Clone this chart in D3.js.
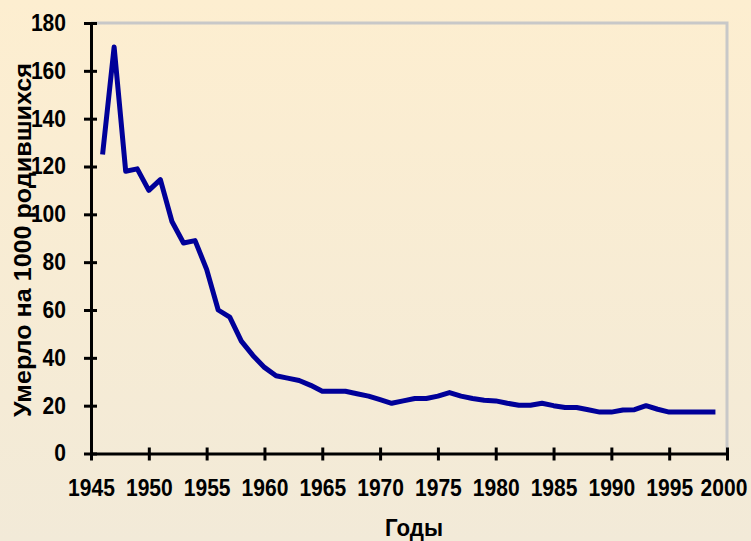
<!DOCTYPE html>
<html>
<head>
<meta charset="utf-8">
<script src="https://d3js.org/d3.v7.min.js"></script>
<style>
  body { margin: 0; padding: 0; }
  svg { display: block; }
  text { font-family: "Liberation Sans", Arial, sans-serif; }
</style>
</head>
<body>
<div id="chart"></div>
<script>
// infant mortality, deaths per 1000 births
var years = [1946, 1947, 1948, 1949, 1950, 1951, 1952, 1953, 1954, 1955,
             1956, 1957, 1958, 1959, 1960, 1961, 1962, 1963, 1964, 1965,
             1966, 1967, 1968, 1969, 1970, 1971, 1972, 1973, 1974, 1975,
             1976, 1977, 1978, 1979, 1980, 1981, 1982, 1983, 1984, 1985,
             1986, 1987, 1988, 1989, 1990, 1991, 1992, 1993, 1994, 1995,
             1996, 1997, 1998, 1999];
var deaths = [125, 170, 118, 119, 110, 114.5, 97, 88, 89, 77,
              60, 57, 47, 41, 36, 32.5, 31.5, 30.5, 28.5, 26,
              26, 26, 25, 24, 22.5, 21, 22, 23, 23, 24,
              25.5, 24, 23, 22.3, 22, 21, 20.2, 20.2, 21, 20,
              19.2, 19.2, 18.3, 17.3, 17.3, 18.2, 18.3, 20, 18.5, 17.3,
              17.3, 17.3, 17.3, 17.3];
var xTicks = [1945, 1950, 1955, 1960, 1965, 1970, 1975, 1980, 1985, 1990, 1995, 2000];
var yTicks = [0, 20, 40, 60, 80, 100, 120, 140, 160, 180];

var width = 751, height = 541;

var svg = d3.select("#chart")
    .append("svg")
    .attr("width", width)
    .attr("height", height);

// background gradient
var grad = svg.append("defs").append("linearGradient")
    .attr("id", "bg")
    .attr("x1", 0).attr("y1", 0).attr("x2", 0).attr("y2", 1);
grad.append("stop").attr("offset", "0%").attr("stop-color", "#fdeed0");
grad.append("stop").attr("offset", "100%").attr("stop-color", "#f2ead8");

svg.append("rect")
    .attr("width", width)
    .attr("height", height)
    .attr("fill", "url(#bg)");

var x = d3.scaleLinear().domain([1945, 2000]).range([91, 727]);
var y = d3.scaleLinear().domain([0, 180]).range([453.5, 23]);

// grey plot frame (top + right)
svg.append("path")
    .attr("d", "M" + x(1945) + "," + y(180) + "H" + x(2000) + "V" + y(0))
    .attr("fill", "none")
    .attr("stroke", "#c8c8c8")
    .attr("stroke-width", 3);

// y axis
var yAxis = svg.append("g")
    .attr("transform", "translate(" + x(1945) + ",0)")
    .call(d3.axisLeft(y).tickValues(yTicks).tickSize(7).tickSizeOuter(0).tickPadding(18));

// x axis
var xAxis = svg.append("g")
    .attr("transform", "translate(0," + y(0) + ")")
    .call(d3.axisBottom(x).tickValues(xTicks).tickFormat(d3.format("d")).tickSize(7).tickSizeOuter(0));

[yAxis, xAxis].forEach(function(ax) {
    ax.select(".domain").attr("stroke", "#000").attr("stroke-width", 3);
    ax.selectAll(".tick line").attr("stroke", "#000").attr("stroke-width", 3);
    ax.selectAll(".tick text")
        .attr("fill", "#000")
        .attr("textLength", function(d) { return String(d).length * 11.7; })
        .attr("lengthAdjust", "spacingAndGlyphs")
        .style("font-size", "23px")
        .style("font-weight", "bold");
});
// ticks cross the axis line
yAxis.selectAll(".tick line").attr("x1", 6);
xAxis.selectAll(".tick line").attr("y1", -6);
xAxis.selectAll(".tick text")
    .attr("y", 26)
    .attr("x", function(d) { return d === 2000 ? -3.5 : 0; });

// the data line
var line = d3.line()
    .x(function(d, i) { return x(years[i]); })
    .y(function(d) { return y(d); });

svg.append("path")
    .datum(deaths)
    .attr("d", line)
    .attr("fill", "none")
    .attr("stroke", "#000099")
    .attr("stroke-width", 5)
    .attr("stroke-linejoin", "round");

// axis titles
svg.append("text")
    .attr("transform", "translate(31,240) rotate(-90)")
    .attr("text-anchor", "middle")
    .attr("textLength", 354)
    .attr("lengthAdjust", "spacingAndGlyphs")
    .style("font-size", "24px")
    .style("font-weight", "bold")
    .text("Умерло на 1000 родившихся");

svg.append("text")
    .attr("x", 414)
    .attr("y", 536)
    .attr("text-anchor", "middle")
    .attr("textLength", 58)
    .attr("lengthAdjust", "spacingAndGlyphs")
    .style("font-size", "24px")
    .style("font-weight", "bold")
    .text("Годы");
</script>
</body>
</html>
